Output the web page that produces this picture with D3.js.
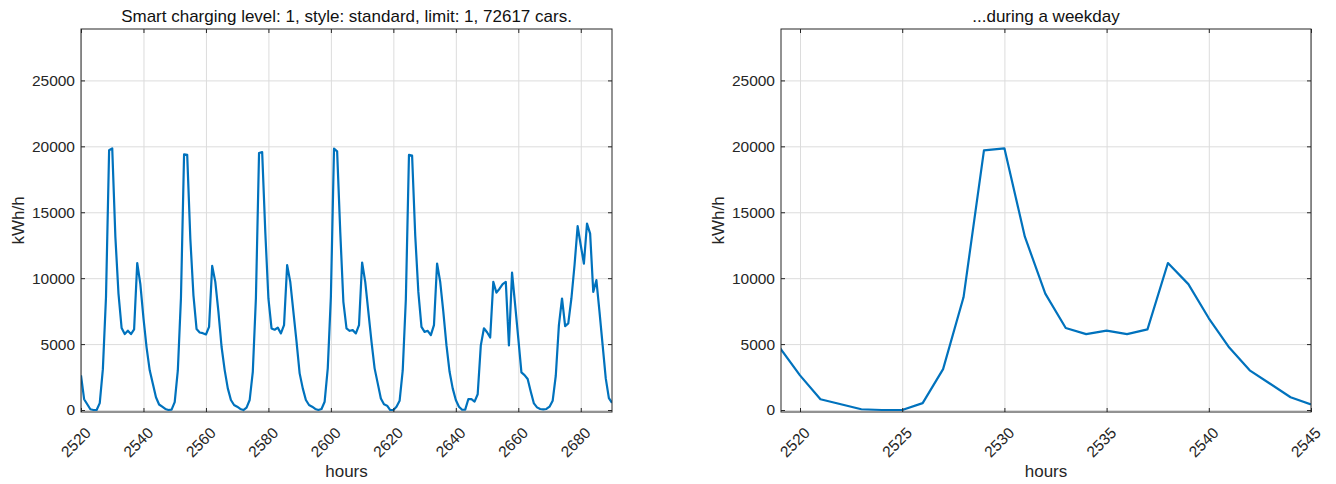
<!DOCTYPE html>
<html>
<head>
<meta charset="utf-8">
<script src="https://cdn.jsdelivr.net/npm/d3@7"></script>
<style>
  body { margin: 0; background: #fff; }
  svg { display: block; font-family: "Liberation Sans", Arial, sans-serif; }
</style>
</head>
<body>
<svg id="chart" width="1336" height="484"></svg>
<script>
// hourly charging load (kWh/h), one value per hour
const weekStart = 2520;
const weekLoad = [
  2630, 820, 440, 60, 0, 0, 520, 3100, 8550, 19700,
  19850, 13150, 8830, 6220, 5760, 6020, 5760, 6120, 11150, 9550,
  6960, 4740, 3010, 1990, 970, 420, 250, 80, 0, 30,
  600, 3000, 8500, 19400, 19350, 13000, 8700, 6140, 5880, 5830,
  5730, 6310, 10930, 9720, 7450, 4800, 3030, 1640, 760, 380,
  250, 80, 0, 180, 760, 2900, 8500, 19500, 19570, 13500,
  8460, 6190, 6090, 6250, 5810, 6440, 10990, 9720, 7450, 5180,
  2780, 1640, 760, 380, 250, 80, 0, 80, 630, 3160,
  8600, 19820, 19620, 13510, 8210, 6190, 6010, 6060, 5810, 6440,
  11190, 9720, 7450, 5180, 3160, 2020, 880, 430, 330, 0,
  0, 250, 700, 3000, 8400, 19350, 19300, 13260, 8960, 6310,
  5930, 6010, 5680, 6440, 11110, 9720, 7450, 4920, 2900, 1640,
  760, 250, 20, 30, 820, 820, 640, 1200, 4900, 6200,
  5900, 5500, 9720, 8900, 9200, 9550, 9720, 4900, 10420, 7950,
  5430, 2850, 2650, 2350, 1390, 500, 200, 80, 50, 80,
  250, 700, 2600, 6440, 8460, 6360, 6570, 8460, 10980, 13950,
  12500, 11100, 14140, 13380, 8960, 9850, 7450, 4920, 2400, 900,
  550
];

const dayStart = 2519;
const dayLoad = [
  4750, 2630, 820, 440, 60, 0, 0, 520, 3100, 8550,
  19700, 19850, 13150, 8830, 6220, 5760, 6020, 5760, 6120, 11150,
  9550, 6960, 4740, 3010, 1990, 970, 420
];

const weekTicks = [2520, 2540, 2560, 2580, 2600, 2620, 2640, 2660, 2680];
const dayTicks = [2520, 2525, 2530, 2535, 2540, 2545];
const yTicks = [0, 5000, 10000, 15000, 20000, 25000];

const leftTitle = "Smart charging level: 1, style: standard, limit: 1, 72617 cars.";
const rightTitle = "...during a weekday";

const svg = d3.select("#chart");

// one matlab-like panel
function drawPanel(opts) {
  const { left, right, top, bottom, xDomain, xTicks, start, values, title } = opts;
  const innerW = right - left;
  const innerH = bottom - top;

  const g = svg.append("g").attr("transform", `translate(${left},${top})`);

  const x = d3.scaleLinear().domain(xDomain).range([0, innerW]);
  const y = d3.scaleLinear().domain([-150, 28900]).range([innerH, 0]);

  // grid
  g.append("g")
    .attr("class", "grid")
    .call(d3.axisBottom(x).tickValues(xTicks).tickSize(innerH).tickFormat(""))
    .call(a => a.select(".domain").remove());
  g.append("g")
    .attr("class", "grid")
    .call(d3.axisLeft(y).tickValues(yTicks).tickSize(-innerW).tickFormat(""))
    .call(a => a.select(".domain").remove());
  g.selectAll(".grid line").attr("stroke", "#dcdcdc").attr("stroke-width", 1);

  // line
  const clipId = "clip" + left;
  g.append("clipPath").attr("id", clipId)
    .append("rect").attr("width", innerW).attr("height", innerH);

  const line = d3.line()
    .x((d, i) => x(start + i))
    .y(d => y(d));

  g.append("path")
    .datum(values)
    .attr("clip-path", `url(#${clipId})`)
    .attr("fill", "none")
    .attr("stroke", "#0072BD")
    .attr("stroke-width", 2.2)
    .attr("stroke-linejoin", "round")
    .attr("d", line);

  // ticks inside on all four sides
  const tickLen = -4;
  g.append("g").attr("transform", `translate(0,${innerH})`)
    .call(d3.axisBottom(x).tickValues(xTicks).tickSize(tickLen).tickFormat(""));
  g.append("g")
    .call(d3.axisTop(x).tickValues(xTicks).tickSize(tickLen).tickFormat(""));
  g.append("g")
    .call(d3.axisLeft(y).tickValues(yTicks).tickSize(tickLen).tickPadding(6).tickFormat(d3.format("d")));
  g.append("g").attr("transform", `translate(${innerW},0)`)
    .call(d3.axisRight(y).tickValues(yTicks).tickSize(tickLen).tickFormat(""));

  g.selectAll(".domain").remove();
  g.selectAll(".tick line").filter(function () {
    return !this.closest(".grid");
  }).attr("stroke", "#262626");
  g.selectAll(".tick text")
    .attr("fill", "#262626")
    .style("font-size", "15.5px");

  // x tick labels, rotated
  g.selectAll(".xlab")
    .data(xTicks)
    .join("text")
    .attr("class", "xlab")
    .attr("transform", d => `translate(${x(d) + 7},${innerH + 18}) rotate(-45)`)
    .attr("dy", "0.35em")
    .attr("text-anchor", "end")
    .attr("fill", "#262626")
    .style("font-size", "15.5px")
    .text(d => d);

  // box
  g.append("rect")
    .attr("width", innerW)
    .attr("height", innerH)
    .attr("fill", "none")
    .attr("stroke", "#262626")
    .attr("stroke-width", 1);

  // labels
  svg.append("text")
    .attr("x", left + innerW / 2)
    .attr("y", 22)
    .attr("text-anchor", "middle")
    .attr("fill", "#111")
    .style("font-size", "17px")
    .text(title);

  svg.append("text")
    .attr("x", left + innerW / 2)
    .attr("y", 477)
    .attr("text-anchor", "middle")
    .attr("fill", "#262626")
    .style("font-size", "17px")
    .text("hours");

  svg.append("text")
    .attr("transform", `translate(${left - 57},${top + innerH / 2}) rotate(-90)`)
    .attr("text-anchor", "middle")
    .attr("fill", "#262626")
    .style("font-size", "17px")
    .text("kWh/h");
}

drawPanel({
  left: 81, right: 612, top: 29, bottom: 412,
  xDomain: [2520, 2690], xTicks: weekTicks,
  start: weekStart, values: weekLoad, title: leftTitle
});

drawPanel({
  left: 781, right: 1311, top: 29, bottom: 412,
  xDomain: [2519.07, 2545], xTicks: dayTicks,
  start: dayStart, values: dayLoad, title: rightTitle
});
</script>
</body>
</html>
